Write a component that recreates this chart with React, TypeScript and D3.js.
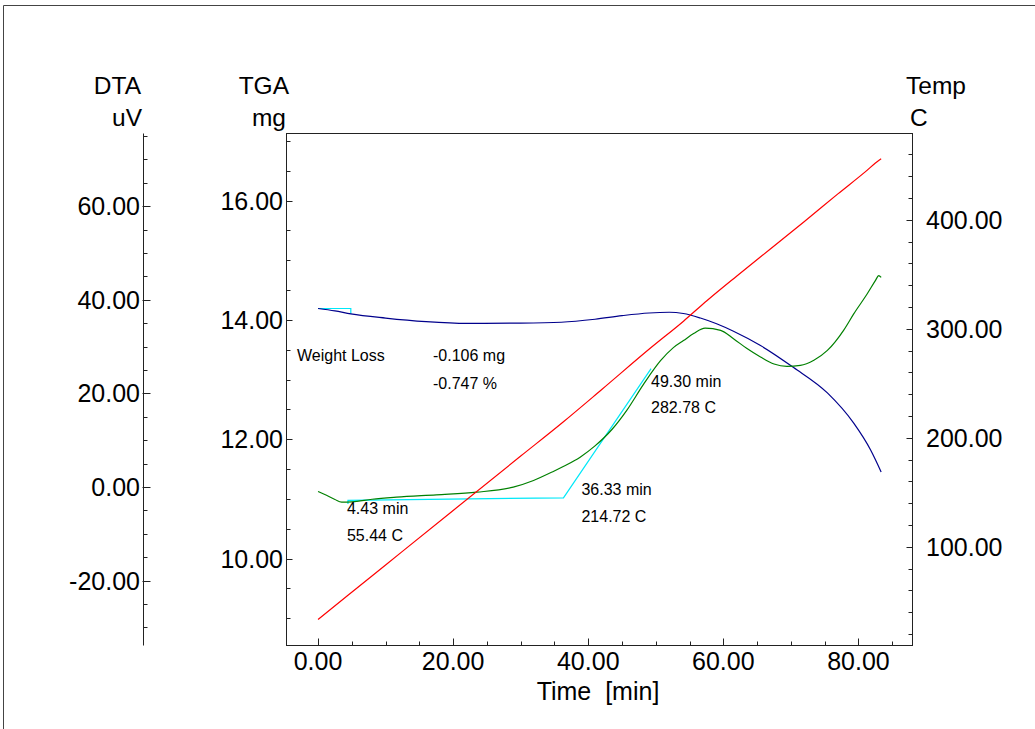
import React from 'react';
import * as d3 from 'd3';

// ---- tick values ----
const xMajorTicks = [0, 20, 40, 60, 80];
const tgaMajorTicks = [10, 12, 14, 16];
const dtaMajorTicks = [-20, 0, 20, 40, 60];
const tempMajorTicks = [100, 200, 300, 400];

// ---- Temperature (C) vs time (min) ----
const tempTime = [0, 4.43, 10, 20, 30, 36.33, 42, 49.3, 54.1, 57.6, 62, 67, 72, 77, 81, 83.0, 83.36];
const tempValues = [33.3, 55.44, 83.3, 133.3, 183.2, 214.72, 244.3, 282.78, 307, 326, 348.5, 373.5, 398.5, 424, 444, 454.5, 456];

// ---- TGA (mg) vs time ----
const tgaTime = [0, 2.5, 4.85, 10, 16, 22, 30, 36, 41, 45, 49, 52, 54.07, 56.6, 59, 61.5, 65.5, 70.4, 75.4, 79.3, 81.8, 83.36];
const tgaValues = [14.19, 14.15, 14.1, 14.03, 13.97, 13.94, 13.945, 13.96, 14.01, 14.07, 14.115, 14.127, 14.106, 14.03, 13.934, 13.809, 13.569, 13.2, 12.775, 12.268, 11.818, 11.45];

// ---- DTA (uV) vs time ----
const dtaTime = [0, 1, 2.5, 3.5, 5, 8, 11.6, 17.5, 23.5, 28.9, 31.9, 34.9, 36.3, 38.8, 41, 43.5, 45.7, 48.2, 50.7, 52.6, 54.1, 55.6, 57.3, 59.6, 61.5, 63.5, 65.5, 67.5, 69.4, 71.4, 73.4, 75.4, 77.8, 79.3, 81.3, 82.5, 83.0, 83.36];
const dtaValues = [-0.94, -1.6, -2.65, -3.2, -3.15, -2.6, -2.16, -1.65, -1.09, 0, 1.42, 3.4, 4.4, 6.4, 8.8, 12.3, 16.4, 22.0, 27.0, 29.8, 31.3, 32.8, 33.95, 33.5, 31.7, 29.6, 27.8, 26.3, 25.8, 26.0, 27.1, 29.2, 33.5, 37.0, 41.3, 44.1, 45.2, 44.8];

// ---- analysis construction lines ----
const onsetTime = [4.43, 4.43, 36.33, 49.3];
const onsetDta = [-3.6, -2.85, -2.29, 25.3];
const stepTime = [0, 4.85, 4.85];
const stepTga = [14.19, 14.19, 14.1];

const FONT = "'Liberation Sans', Arial, Helvetica, sans-serif";

export default function App() {
  const W = 1035, H = 729;
  const L = 286.5, R = 912.5, T = 133.5, B = 645.5;
  const dtaAxisX = 143.5;

  const x = d3.scaleLinear().domain([-4.67, 88.0]).range([L, R]);
  const yTga = d3.scaleLinear().domain([8.542, 17.123]).range([B, T]);
  const yDta = d3.scaleLinear().domain([-33.85, 75.55]).range([B, T]);
  const yTemp = d3.scaleLinear().domain([9.4, 479.2]).range([B, T]);

  const mk = (ts: number[], vs: number[], ys: d3.ScaleLinear<number, number>, curve = true) => {
    const pts = ts.map((t, i) => [x(t), ys(vs[i])] as [number, number]);
    const ln = d3.line();
    if (curve) ln.curve(d3.curveMonotoneX);
    return ln(pts) || '';
  };

  const inRange = (v: number, s: d3.ScaleLinear<number, number>) => {
    const [a, b] = s.domain();
    return v >= Math.min(a, b) - 1e-9 && v <= Math.max(a, b) + 1e-9;
  };

  const xMinor = d3.range(-5, 90, 5).filter(v => inRange(v, x));
  const tgaMinor = d3.range(8, 18, 0.5).filter(v => inRange(v, yTga));
  const dtaMinor = d3.range(-35, 80, 5).filter(v => inRange(v, yDta));
  const tempMinor = d3.range(0, 500, 20).filter(v => inRange(v, yTemp));

  const axisColor = '#222';
  const tickFont = 25;
  const annFont = 16;

  return (
    <svg width={W} height={H} style={{ position: 'absolute', left: 0, top: 0, background: '#fff' }} fontFamily={FONT}>
      {/* outer frame */}
      <path d={`M3.5,${H + 2} V5.5 H${W + 2}`} fill="none" stroke="#444" strokeWidth={1} />

      {/* titles */}
      <g fontSize={24.5} fill="#000">
        <text x={141} y={94} textAnchor="end">DTA</text>
        <text x={142} y={126} textAnchor="end">uV</text>
        <text x={289} y={94} textAnchor="end">TGA</text>
        <text x={286} y={126} textAnchor="end">mg</text>
        <text x={906} y={94}>Temp</text>
        <text x={910} y={126}>C</text>
      </g>

      {/* DTA axis */}
      <line x1={dtaAxisX} x2={dtaAxisX} y1={T} y2={B} stroke={axisColor} />
      {dtaMinor.map(v => (
        <line key={'dm' + v} x1={dtaAxisX} x2={dtaAxisX + 4} y1={Math.round(yDta(v)) + 0.5} y2={Math.round(yDta(v)) + 0.5} stroke={axisColor} />
      ))}
      {dtaMajorTicks.map(v => (
        <g key={'dM' + v}>
          <line x1={dtaAxisX - 1} x2={dtaAxisX + 7} y1={Math.round(yDta(v)) + 0.5} y2={Math.round(yDta(v)) + 0.5} stroke={axisColor} />
          <text x={140} y={yDta(v)} dy="0.36em" textAnchor="end" fontSize={tickFont}>{v.toFixed(2)}</text>
        </g>
      ))}

      {/* plot frame */}
      <rect x={L} y={T} width={R - L} height={B - T} fill="none" stroke={axisColor} />

      {/* TGA left axis ticks */}
      {tgaMinor.map(v => (
        <line key={'tm' + v} x1={L} x2={L + 4} y1={Math.round(yTga(v)) + 0.5} y2={Math.round(yTga(v)) + 0.5} stroke={axisColor} />
      ))}
      {tgaMajorTicks.map(v => (
        <g key={'tM' + v}>
          <line x1={L} x2={L + 6} y1={Math.round(yTga(v)) + 0.5} y2={Math.round(yTga(v)) + 0.5} stroke={axisColor} />
          <text x={283} y={yTga(v)} dy="0.36em" textAnchor="end" fontSize={tickFont}>{v.toFixed(2)}</text>
        </g>
      ))}

      {/* Temp right axis */}
      {tempMinor.map(v => (
        <line key={'pm' + v} x1={R - 4} x2={R} y1={Math.round(yTemp(v)) + 0.5} y2={Math.round(yTemp(v)) + 0.5} stroke={axisColor} />
      ))}
      {tempMajorTicks.map(v => (
        <g key={'pM' + v}>
          <line x1={R - 6} x2={R} y1={Math.round(yTemp(v)) + 0.5} y2={Math.round(yTemp(v)) + 0.5} stroke={axisColor} />
          <text x={926} y={yTemp(v)} dy="0.36em" fontSize={tickFont}>{v.toFixed(2)}</text>
        </g>
      ))}

      {/* X axis */}
      {xMinor.map(v => (
        <line key={'xm' + v} x1={Math.round(x(v)) + 0.5} x2={Math.round(x(v)) + 0.5} y1={B} y2={B - 4} stroke={axisColor} />
      ))}
      {xMajorTicks.map(v => (
        <g key={'xM' + v}>
          <line x1={Math.round(x(v)) + 0.5} x2={Math.round(x(v)) + 0.5} y1={B} y2={B - 7} stroke={axisColor} />
          <text x={x(v)} y={670} textAnchor="middle" fontSize={tickFont}>{v.toFixed(2)}</text>
        </g>
      ))}
      <text x={598} y={700} textAnchor="middle" fontSize={tickFont} style={{ whiteSpace: 'pre' }}>{'Time  [min]'}</text>

      {/* curves */}
      <g fill="none" strokeWidth={1.2}>
        <path d={mk(stepTime, stepTga, yTga, false)} stroke="#00e8f8" />
        <path d={mk(onsetTime, onsetDta, yDta, false)} stroke="#00e8f8" />
        <path d={mk(tgaTime, tgaValues, yTga)} stroke="#00008c" />
        <path d={mk(dtaTime, dtaValues, yDta)} stroke="#008000" />
        <path d={mk(tempTime, tempValues, yTemp)} stroke="#ff0000" />
      </g>

      {/* annotations */}
      <g fontSize={annFont} fill="#000" style={{ whiteSpace: 'pre' }}>
        <text x={297} y={361}>{'Weight  Loss'}</text>
        <text x={433} y={361}>-0.106 mg</text>
        <text x={433} y={389}>-0.747 %</text>
        <text x={x(4.43) - 1} y={514}>4.43 min</text>
        <text x={x(4.43) - 1} y={541}>55.44 C</text>
        <text x={x(36.33) + 18} y={495}>36.33 min</text>
        <text x={x(36.33) + 18} y={522}>214.72 C</text>
        <text x={x(49.3)} y={387}>49.30 min</text>
        <text x={x(49.3)} y={413}>282.78 C</text>
      </g>
    </svg>
  );
}
